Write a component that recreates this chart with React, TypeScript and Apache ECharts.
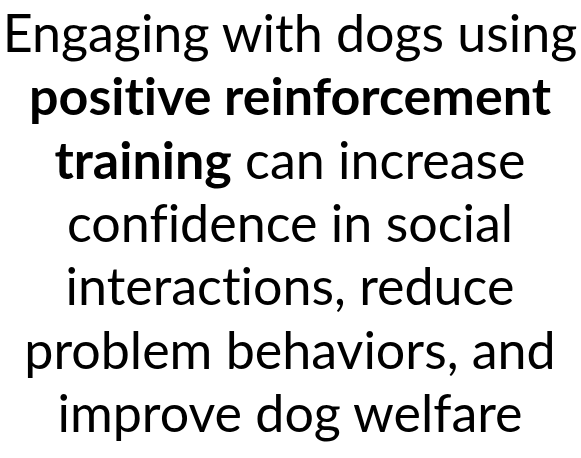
import React, { useEffect, useRef } from "react";
import * as echarts from "echarts";

const lines: { parts: { text: string; bold: boolean }[] }[] = [
  { parts: [{ text: "Engaging with dogs using", bold: false }] },
  { parts: [{ text: "positive reinforcement", bold: true }] },
  { parts: [{ text: "training", bold: true }, { text: " can increase", bold: false }] },
  { parts: [{ text: "confidence in social", bold: false }] },
  { parts: [{ text: "interactions, reduce", bold: false }] },
  { parts: [{ text: "problem behaviors, and", bold: false }] },
  { parts: [{ text: "improve dog welfare", bold: false }] },
];

const FONT = "Lato";
const SIZE = 52;
const FIRST_CENTER = 32;
const STEP = 63.3;

// split between "f|i" and "t|i" so the font's ligatures are not formed
function splitNoLig(s: string): string[] {
  const out: string[] = [];
  let cur = "";
  for (let i = 0; i < s.length; i++) {
    cur += s[i];
    if ((s[i] === "f" || s[i] === "t") && s[i + 1] === "i") {
      out.push(cur);
      cur = "";
    }
  }
  if (cur) out.push(cur);
  return out;
}

export default function App() {
  const ref = useRef<HTMLDivElement>(null);
  useEffect(() => {
    if (!ref.current) return;
    const chart = echarts.init(ref.current, null, { renderer: "svg" });
    const elements = lines.map((ln, i) => ({
      type: "text",
      x: 290,
      y: FIRST_CENTER + i * STEP,
      style: {
        text: ln.parts
          .map((p) =>
            splitNoLig(p.text)
              .map((t) => `{${p.bold ? "b" : "n"}|${t}}`)
              .join("")
          )
          .join(""),
        align: "center",
        verticalAlign: "middle",
        fill: "#000",
        rich: {
          b: { fontFamily: FONT, fontSize: SIZE, fontWeight: "bold", fill: "#000" },
          n: { fontFamily: FONT, fontSize: SIZE, fontWeight: "normal", fill: "#000" },
        },
      },
    }));
    chart.setOption({
      animation: false,
      backgroundColor: "#ffffff",
      graphic: { elements },
    });
    return () => chart.dispose();
  }, []);
  return (
    <div
      ref={ref}
      style={{ width: 581, height: 458, position: "absolute", left: 0, top: 0 }}
    />
  );
}
